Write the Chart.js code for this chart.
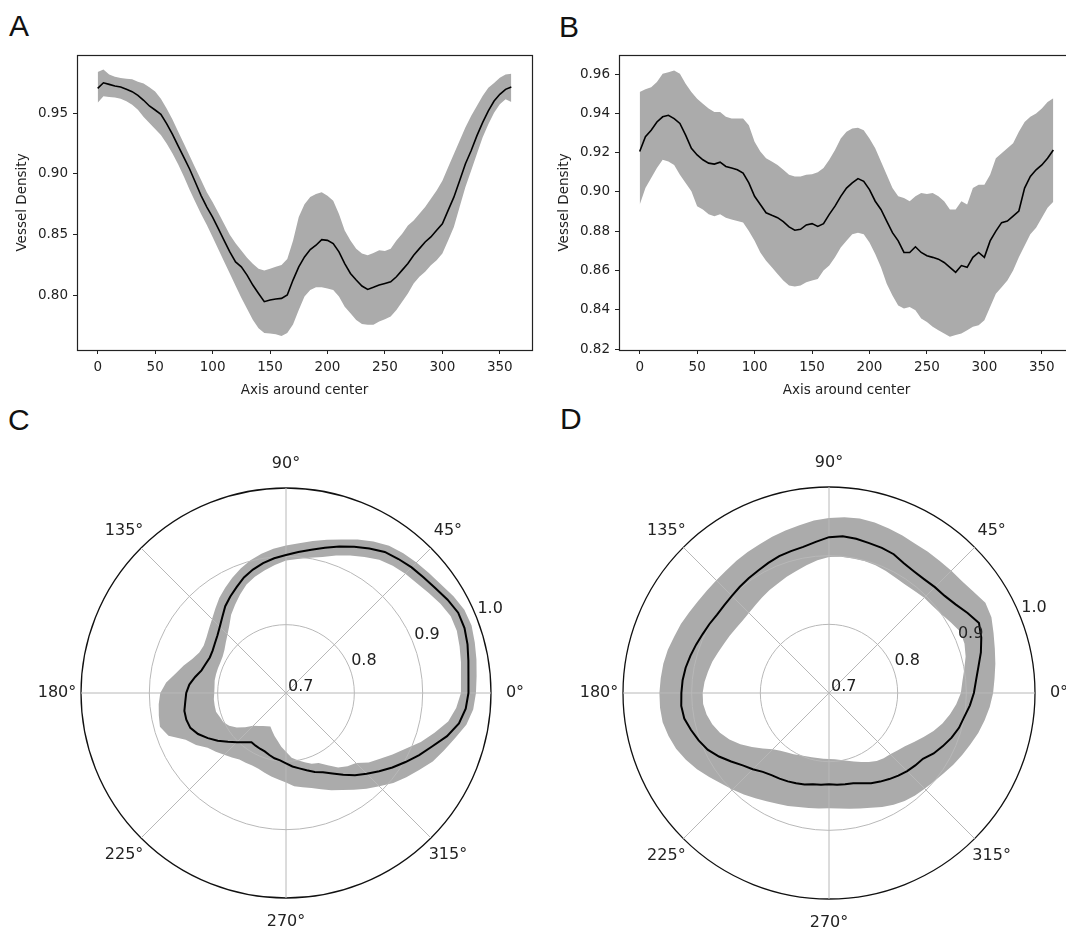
<!DOCTYPE html>
<html lang="en">
<head>
<meta charset="UTF-8">
<title>Vessel density around center</title>
<script src="https://cdn.jsdelivr.net/npm/chart.js"></script>
<style>
  html, body { margin: 0; padding: 0; background: #fff; overflow: hidden; }
  body { position: relative; width: 1066px; height: 937px; }
  canvas { position: absolute; }
  .letter { position: absolute; font-family: "Liberation Sans", Arial, sans-serif; font-size: 30px; line-height: 1; color: #111; }
</style>
</head>
<body>
  <div class="letter" style="left:9px; top:11px;">A</div>
  <div class="letter" style="left:559px; top:12px;">B</div>
  <div class="letter" style="left:8px; top:405px;">C</div>
  <div class="letter" style="left:560px; top:404px;">D</div>

  <canvas id="chartA" width="545" height="400" style="left:0; top:0;"></canvas>
  <canvas id="chartB" width="540" height="400" style="left:545px; top:0;"></canvas>
  <canvas id="chartC" width="545" height="537" style="left:0; top:400px;"></canvas>
  <canvas id="chartD" width="521" height="537" style="left:545px; top:400px;"></canvas>

<script>
// ---- data (degrees around center) ----
const axisDeg = [0,5,10,15,20,25,30,35,40,45,50,55,60,65,70,75,80,85,90,95,100,105,110,115,120,125,130,135,140,145,150,155,160,165,170,175,180,185,190,195,200,205,210,215,220,225,230,235,240,245,250,255,260,265,270,275,280,285,290,295,300,305,310,315,320,325,330,335,340,345,350,355,360];
const xTicks = [0, 50, 100, 150, 200, 250, 300, 350];

// panel A
const meanA = [0.9705,0.9751,0.9738,0.9724,0.9716,0.9697,0.9678,0.9648,0.9607,0.956,0.9527,0.9492,0.9415,0.9328,0.9232,0.9137,0.9041,0.8932,0.8822,0.8727,0.8645,0.855,0.8453,0.8358,0.8276,0.8235,0.8167,0.8085,0.8016,0.7948,0.7962,0.797,0.7975,0.8003,0.8126,0.8235,0.8317,0.8377,0.8413,0.8459,0.8453,0.8426,0.8358,0.8262,0.818,0.8126,0.8077,0.8049,0.8066,0.8085,0.8098,0.8112,0.8153,0.8208,0.8262,0.8331,0.8385,0.844,0.8481,0.8536,0.859,0.87,0.8809,0.8945,0.9082,0.9191,0.9314,0.9423,0.9519,0.9601,0.9656,0.9697,0.9716];
const upperA = [0.984,0.986,0.982,0.98,0.979,0.9785,0.978,0.976,0.9745,0.9715,0.968,0.962,0.954,0.945,0.935,0.925,0.915,0.905,0.895,0.885,0.877,0.868,0.859,0.85,0.843,0.837,0.831,0.826,0.822,0.8205,0.822,0.8235,0.825,0.83,0.845,0.8645,0.875,0.881,0.8836,0.885,0.882,0.878,0.867,0.8535,0.8453,0.8385,0.8344,0.833,0.835,0.8372,0.8366,0.8385,0.8453,0.8508,0.8576,0.8617,0.8672,0.8727,0.8795,0.8863,0.8945,0.9055,0.9164,0.9273,0.9383,0.9478,0.956,0.9642,0.971,0.975,0.9792,0.982,0.9825];
const lowerA = [0.9587,0.964,0.9635,0.963,0.962,0.96,0.957,0.953,0.947,0.942,0.937,0.932,0.925,0.917,0.908,0.898,0.887,0.877,0.867,0.858,0.848,0.838,0.828,0.818,0.808,0.798,0.789,0.78,0.773,0.769,0.7685,0.768,0.7665,0.769,0.776,0.788,0.799,0.8044,0.8066,0.8066,0.8057,0.8044,0.799,0.7907,0.7852,0.7798,0.7765,0.7757,0.7757,0.7784,0.7803,0.7825,0.788,0.7948,0.8016,0.8098,0.8153,0.8194,0.8249,0.829,0.8344,0.8453,0.8563,0.8727,0.8891,0.9027,0.9164,0.93,0.941,0.9505,0.9574,0.9615,0.9593];
const yTicksA = [0.80, 0.85, 0.90, 0.95];

// panel B
const meanB = [0.9206,0.9282,0.9315,0.9357,0.9383,0.9391,0.9374,0.9349,0.929,0.9223,0.9189,0.9164,0.9147,0.9142,0.9152,0.913,0.9122,0.9113,0.9096,0.9046,0.8978,0.8936,0.8894,0.8881,0.8869,0.8849,0.8822,0.8805,0.881,0.8832,0.8839,0.8825,0.8839,0.8886,0.8928,0.8978,0.902,0.9046,0.9068,0.9054,0.9012,0.8953,0.8911,0.8852,0.8793,0.8751,0.8692,0.8692,0.8721,0.8692,0.8675,0.8667,0.8658,0.8641,0.8616,0.8591,0.8625,0.8616,0.8667,0.8692,0.8667,0.8751,0.8801,0.8844,0.8852,0.8877,0.8903,0.902,0.9079,0.9113,0.9138,0.9172,0.9214];
const upperB = [0.951,0.9523,0.9534,0.956,0.9602,0.961,0.9619,0.9602,0.9551,0.9509,0.9475,0.945,0.9425,0.9408,0.9408,0.9383,0.9374,0.9374,0.9374,0.934,0.9256,0.9206,0.9172,0.9155,0.9138,0.9113,0.9088,0.9079,0.9079,0.9088,0.9091,0.9101,0.9122,0.9164,0.9214,0.9273,0.9307,0.9324,0.9327,0.9315,0.9273,0.9223,0.9155,0.9088,0.902,0.8978,0.897,0.8953,0.8978,0.8995,0.899,0.8995,0.8978,0.8953,0.8911,0.8911,0.8953,0.8936,0.902,0.9037,0.9037,0.9088,0.9172,0.9197,0.9223,0.9248,0.9307,0.9357,0.9383,0.94,0.9425,0.9458,0.9478];
const lowerB = [0.8935,0.902,0.9071,0.9122,0.9164,0.9155,0.9138,0.9088,0.9046,0.9004,0.8928,0.8911,0.8886,0.8877,0.8886,0.8869,0.886,0.8852,0.8844,0.8801,0.8751,0.8692,0.865,0.8616,0.8582,0.8549,0.8524,0.8518,0.8524,0.854,0.8549,0.8557,0.86,0.8625,0.8667,0.8717,0.8751,0.8785,0.8793,0.8785,0.8743,0.8684,0.8616,0.8532,0.8473,0.8422,0.8406,0.8414,0.8397,0.8355,0.8338,0.8313,0.8296,0.8279,0.8262,0.8271,0.8279,0.8296,0.8313,0.8321,0.8347,0.8414,0.8481,0.8515,0.8549,0.86,0.8667,0.8726,0.8785,0.8818,0.8869,0.892,0.895];
const yTicksB = [0.82, 0.84, 0.86, 0.88, 0.90, 0.92, 0.94, 0.96];

// polar panels, counter-clockwise from 0 deg
const polarDeg = [0,5,10,15,20,25,30,35,40,45,50,55,60,65,70,75,80,85,90,95,100,105,110,115,120,125,130,135,140,145,150,155,160,165,170,175,180,185,190,195,200,205,210,215,220,225,230,235,240,245,250,255,260,265,270,275,280,285,290,295,300,305,310,315,320,325,330,335,340,345,350,355];
const angleTicks = [0, 45, 90, 135, 180, 225, 270, 315];
const radialTicks = [0.7, 0.8, 0.9, 1.0];

const meanC = [0.967,0.968,0.971,0.975,0.978,0.978,0.973,0.967,0.963,0.96,0.956,0.952,0.944,0.936,0.928,0.92,0.913,0.907,0.902,0.898,0.893,0.887,0.88,0.871,0.863,0.855,0.845,0.837,0.831,0.827,0.824,0.823,0.825,0.828,0.835,0.842,0.846,0.848,0.851,0.851,0.849,0.842,0.832,0.822,0.811,0.802,0.794,0.788,0.789,0.79,0.791,0.794,0.797,0.799,0.803,0.808,0.812,0.817,0.823,0.828,0.836,0.846,0.857,0.867,0.878,0.89,0.902,0.915,0.928,0.944,0.957,0.964];
const upperC = [0.978,0.98,0.983,0.986,0.989,0.988,0.983,0.977,0.973,0.97,0.967,0.963,0.956,0.948,0.939,0.932,0.926,0.92,0.916,0.912,0.907,0.901,0.894,0.886,0.878,0.87,0.861,0.853,0.847,0.842,0.839,0.84,0.846,0.855,0.864,0.876,0.884,0.887,0.889,0.891,0.883,0.862,0.852,0.84,0.834,0.828,0.823,0.819,0.818,0.817,0.818,0.821,0.824,0.827,0.831,0.837,0.84,0.844,0.85,0.857,0.864,0.873,0.883,0.893,0.905,0.915,0.925,0.937,0.946,0.956,0.968,0.975];
const lowerC = [0.956,0.957,0.96,0.963,0.966,0.966,0.961,0.955,0.95,0.947,0.943,0.938,0.93,0.922,0.914,0.906,0.901,0.897,0.894,0.888,0.882,0.876,0.869,0.859,0.849,0.84,0.829,0.821,0.815,0.81,0.807,0.806,0.806,0.806,0.806,0.805,0.805,0.806,0.806,0.806,0.803,0.801,0.796,0.788,0.778,0.768,0.763,0.759,0.756,0.754,0.759,0.765,0.771,0.779,0.786,0.795,0.8,0.805,0.81,0.813,0.822,0.833,0.84,0.845,0.858,0.868,0.88,0.893,0.91,0.925,0.941,0.95];

const meanD = [0.911,0.915,0.921,0.929,0.936,0.941,0.933,0.925,0.92,0.918,0.916,0.916,0.918,0.923,0.925,0.926,0.928,0.929,0.927,0.921,0.916,0.914,0.912,0.909,0.906,0.904,0.902,0.9,0.899,0.899,0.901,0.903,0.906,0.909,0.912,0.914,0.915,0.916,0.914,0.908,0.902,0.895,0.885,0.874,0.864,0.857,0.85,0.846,0.844,0.842,0.84,0.838,0.835,0.834,0.833,0.834,0.835,0.836,0.84,0.845,0.849,0.853,0.857,0.861,0.864,0.867,0.876,0.883,0.89,0.896,0.9,0.906];
const upperD = [0.939,0.942,0.946,0.95,0.955,0.961,0.963,0.957,0.953,0.952,0.951,0.951,0.951,0.953,0.955,0.957,0.958,0.957,0.955,0.952,0.948,0.945,0.942,0.939,0.937,0.935,0.933,0.932,0.932,0.933,0.935,0.938,0.94,0.943,0.945,0.946,0.947,0.947,0.946,0.942,0.937,0.93,0.922,0.913,0.905,0.899,0.893,0.887,0.882,0.878,0.875,0.872,0.87,0.869,0.868,0.869,0.871,0.874,0.878,0.883,0.888,0.892,0.895,0.897,0.9,0.904,0.909,0.914,0.919,0.925,0.93,0.935];
const lowerD = [0.892,0.895,0.9,0.906,0.91,0.911,0.905,0.9,0.897,0.896,0.894,0.893,0.894,0.896,0.898,0.899,0.899,0.899,0.898,0.894,0.889,0.884,0.88,0.876,0.873,0.87,0.867,0.865,0.864,0.865,0.867,0.869,0.872,0.876,0.879,0.882,0.884,0.884,0.881,0.876,0.869,0.86,0.849,0.837,0.826,0.816,0.81,0.806,0.803,0.8,0.798,0.797,0.796,0.796,0.796,0.797,0.799,0.802,0.806,0.811,0.816,0.821,0.824,0.826,0.83,0.835,0.843,0.852,0.862,0.871,0.879,0.886];

// ---- styles ----
const bandGrey = '#ababab';
const ink = '#222';
Chart.defaults.font.family = '"DejaVu Sans", sans-serif';
Chart.defaults.color = ink;

// matplotlib style box around the plot area
const frame = {
  id: 'frame',
  afterDraw(chart) {
    const a = chart.chartArea, ctx = chart.ctx;
    ctx.save();
    ctx.strokeStyle = ink;
    ctx.lineWidth = 1.2;
    ctx.strokeRect(Math.round(a.left) + 0.5, Math.round(a.top) + 0.5, Math.round(a.right - a.left), Math.round(a.bottom - a.top));
    ctx.restore();
  }
};

const pts = ys => ys.map((y, i) => ({x: axisDeg[i], y: y}));

function lineChart(id, mean, upper, lower, yTicks, yMin, yMax, box) {
  const tickFont = {size: 13.5};
  return new Chart(document.getElementById(id), {
    type: 'line',
    data: {
      datasets: [
        {data: pts(mean), borderColor: '#000', borderWidth: 1.6, fill: false},
        {data: pts(upper), borderWidth: 0, borderColor: 'rgba(0,0,0,0)', fill: false},
        {data: pts(lower), borderWidth: 0, borderColor: 'rgba(0,0,0,0)', backgroundColor: bandGrey, fill: '-1'}
      ]
    },
    options: {
      responsive: false,
      animation: false,
      layout: {padding: {left: 0, top: 55, right: box.right, bottom: 0}},
      elements: {point: {radius: 0}, line: {tension: 0}},
      plugins: {legend: {display: false}, tooltip: {enabled: false}},
      scales: {
        x: {
          type: 'linear', min: -18, max: 378,
          afterBuildTicks: s => { s.ticks = xTicks.map(v => ({value: v})); },
          afterFit: s => { s.height = 50; },
          grid: {drawOnChartArea: false, tickLength: 4, color: ink},
          border: {display: false},
          ticks: {padding: 5, font: tickFont, color: ink, maxRotation: 0},
          title: {display: true, text: 'Axis around center', font: tickFont, color: ink, padding: {top: 0, bottom: 1}}
        },
        y: {
          type: 'linear', min: yMin, max: yMax,
          afterBuildTicks: s => { s.ticks = yTicks.map(v => ({value: v})); },
          afterFit: s => { s.width = box.left; },
          grid: {drawOnChartArea: false, tickLength: 4, color: ink},
          border: {display: false},
          ticks: {padding: 5, font: tickFont, color: ink, callback: v => v.toFixed(2)},
          title: {display: true, text: 'Vessel Density', font: tickFont, color: ink, padding: {top: box.title, bottom: 0}}
        }
      }
    },
    plugins: [frame]
  });
}

lineChart('chartA', meanA, upperA, lowerA, yTicksA, 0.755, 0.998, {left: 77, right: 13, title: 14});
lineChart('chartB', meanB, upperB, lowerB, yTicksB, 0.8195, 0.9698, {left: 74, right: 11, title: 11.5});

// radar runs clockwise from index 0, the polar plots run counter-clockwise
const ccw = arr => arr.map((_, k) => arr[(arr.length - k) % arr.length]);
const angleIndex = a => ((360 - a) / (360 / polarDeg.length)) % polarDeg.length;

const polarText = {
  id: 'polarText',
  afterDraw(chart) {
    const r = chart.scales.r, ctx = chart.ctx;
    ctx.save();
    ctx.font = '16px "DejaVu Sans"';
    ctx.fillStyle = ink;
    ctx.textAlign = 'center';
    ctx.textBaseline = 'middle';
    angleTicks.forEach(a => {
      const p = r.getPointPosition(angleIndex(a), r.drawingArea + 24);
      ctx.fillText(a + '\u00B0', p.x, p.y);
    });
    ctx.textAlign = 'left';
    ctx.textBaseline = 'alphabetic';
    radialTicks.forEach(v => {
      const p = r.getPointPosition(angleIndex(22.5), r.getDistanceFromCenterForValue(v));
      ctx.fillText(v.toFixed(1), p.x + 2, p.y - 2);
    });
    ctx.restore();
  }
};

function polarChart(id, mean, upper, lower, pad) {
  return new Chart(document.getElementById(id), {
    type: 'radar',
    data: {
      labels: ccw(polarDeg),
      datasets: [
        {data: ccw(mean), borderColor: '#000', borderWidth: 2, fill: false},
        {data: ccw(upper), borderWidth: 0, borderColor: 'rgba(0,0,0,0)', fill: false},
        {data: ccw(lower), borderWidth: 0, borderColor: 'rgba(0,0,0,0)', backgroundColor: bandGrey, fill: '-1'}
      ]
    },
    options: {
      responsive: false,
      animation: false,
      layout: {padding: pad},
      elements: {point: {radius: 0}, line: {tension: 0}},
      plugins: {legend: {display: false}, tooltip: {enabled: false}, filler: {drawTime: 'beforeDraw'}},
      scales: {
        r: {
          min: 0.7, max: 1.0, startAngle: 90, beginAtZero: false,
          ticks: {display: false, stepSize: 0.1},
          pointLabels: {display: false},
          grid: {
            circular: true,
            color: c => Math.abs(c.tick.value - 1) < 1e-6 ? '#111' : '#b8b8b8',
            lineWidth: c => Math.abs(c.tick.value - 1) < 1e-6 ? 1.3 : 1
          },
          angleLines: {color: '#b8b8b8', lineWidth: c => (c.index % 9 === 0 ? 1 : 0)}
        }
      }
    },
    plugins: [polarText]
  });
}

polarChart('chartC', meanC, upperC, lowerC, {left: 81, top: 88, right: 54, bottom: 39});
polarChart('chartD', meanD, upperD, lowerD, {left: 78, top: 87, right: 31, bottom: 38});
</script>
</body>
</html>
